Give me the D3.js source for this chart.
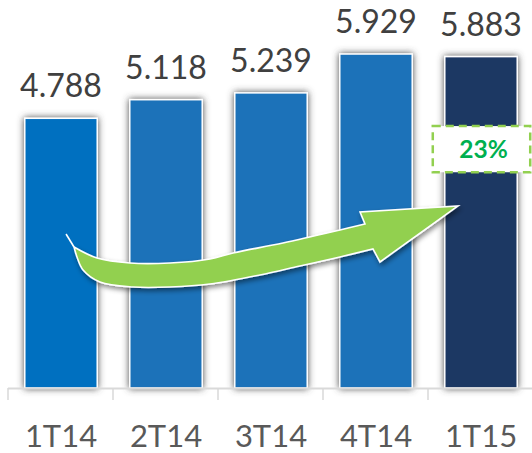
<!DOCTYPE html>
<html><head><meta charset="utf-8">
<script src="https://cdn.jsdelivr.net/npm/d3@7"></script>
<style>html,body{margin:0;padding:0;background:#fff;}svg{display:block;}</style>
</head><body>
<svg id="c" width="532" height="453"></svg>
<script>
// ---- data ----
const categories = ["1T14", "2T14", "3T14", "4T14", "1T15"];
const values = [4.788, 5.118, 5.239, 5.929, 5.883];
const valueLabels = ["4.788", "5.118", "5.239", "5.929", "5.883"];
const barColors = ["#0070C0", "#1C72B9", "#1C72B9", "#1C72B9", "#1F3864"];

// arrow annotation, in (category index, value) units
const arrowUpper = [[0.124,2.503],[0.343,2.308],[0.657,2.219],[1.038,2.219],[1.419,2.290],[1.638,2.397],[2.114,2.574],[2.657,2.805],[2.895,2.911]];
const arrowHead = [[2.895,2.911],[2.848,3.124],[3.781,3.231],[3.038,2.237],[2.971,2.468]];
const arrowLower = [[2.971,2.468],[2.657,2.326],[2.276,2.166],[1.895,2.006],[1.419,1.846],[1.038,1.793],[0.686,1.793],[0.371,1.882],[0.210,2.095],[0.152,2.326],[0.124,2.503]];
const arrowTail = [[0.048,2.734],[0.124,2.503]];

const svg = d3.select("#c");
const W = 532, H = 453;
const baseY = 388;

const x = d3.scaleBand().domain(categories).range([8.5, 533.5]).paddingInner(0.31).paddingOuter(0.155);
const y = d3.scaleLinear().domain([0, 6.888]).range([baseY, 0]);
const xi = d3.scaleLinear().domain([0, categories.length - 1])
  .range([x(categories[0]) + x.bandwidth()/2, x(categories[categories.length-1]) + x.bandwidth()/2]);

const defs = svg.append("defs");
const f = defs.append("filter").attr("id","glow").attr("x","-30%").attr("y","-30%").attr("width","160%").attr("height","160%");
f.append("feDropShadow").attr("dx",0).attr("dy",0).attr("stdDeviation",3.6).attr("flood-color","#4a4a4a").attr("flood-opacity",1);
const fa = defs.append("filter").attr("id","ashadow").attr("x","-20%").attr("y","-30%").attr("width","140%").attr("height","160%");
fa.append("feDropShadow").attr("dx",1.5).attr("dy",3).attr("stdDeviation",2.5).attr("flood-color","#000").attr("flood-opacity",0.45);

// axis
const axisG = svg.append("g");
const step = x.step();
const bounds = d3.range(categories.length + 1).map(i => x(categories[0]) - x.paddingOuter()*step + i*step - 0.5);
// bars
svg.append("g").selectAll("rect").data(values).join("rect")
  .attr("x", (d,i) => x(categories[i]))
  .attr("y", d => y(d))
  .attr("width", x.bandwidth())
  .attr("height", d => baseY - y(d))
  .attr("fill", (d,i) => barColors[i])
  .attr("stroke", "#ffffff").attr("stroke-width", 1.5)
  .attr("filter", "url(#glow)");

axisG.raise();
axisG.append("line").attr("x1", bounds[0]).attr("x2", W).attr("y1", baseY+0.5).attr("y2", baseY+0.5)
  .attr("stroke", "#d9d9d9").attr("stroke-width", 2);
axisG.selectAll("line.tick").data(bounds).join("line").attr("class","tick")
  .attr("x1", d => d).attr("x2", d => d).attr("y1", baseY).attr("y2", baseY + 12)
  .attr("stroke", "#d9d9d9").attr("stroke-width", 1.5);

// category labels
svg.append("g").selectAll("text").data(categories).join("text")
  .attr("x", d => x(d) + x.bandwidth()/2)
  .attr("y", 447)
  .attr("text-anchor", "middle")
  .attr("font-family", "Lato, 'Open Sans', sans-serif")
  .attr("font-size", 31)
  .attr("fill", "#595959")
  .text(d => d);

// value labels
svg.append("g").selectAll("text").data(values).join("text")
  .attr("x", (d,i) => x(categories[i]) + x.bandwidth()/2)
  .attr("y", d => y(d) - 21)
  .attr("text-anchor", "middle")
  .attr("font-family", "Lato, 'Open Sans', sans-serif")
  .attr("font-size", 32)
  .attr("fill", "#404040")
  .text((d,i) => valueLabels[i]);

// arrow
const px = p => [xi(p[0]), y(p[1])];
const curve = d3.line().curve(d3.curveCatmullRom.alpha(0.5));
let dU = curve(arrowUpper.map(px));
let dH = d3.line()(arrowHead.map(px)).replace(/^M/, "L");
let dL = curve(arrowLower.map(px)).replace(/^M/, "L");
svg.append("path").attr("d", dU + dH + dL + "Z")
  .attr("fill", "#92D050").attr("stroke", "#ffffff").attr("stroke-width", 1.6)
  .attr("stroke-linejoin", "miter").attr("filter", "url(#ashadow)");
svg.append("path").attr("d", d3.line()(arrowTail.map(px)))
  .attr("stroke", "#ffffff").attr("stroke-width", 1.6).attr("fill", "none");

// growth annotation
const growth = values[values.length-1] / values[0] - 1;
const lastCat = categories[categories.length-1];
const bx0 = x(lastCat) - 12, bx1 = x(lastCat) + x.bandwidth() + 13;
const by0 = y(4.65), by1 = y(3.83);
svg.append("rect").attr("x", bx0).attr("y", by0).attr("width", bx1 - bx0).attr("height", by1 - by0)
  .attr("fill", "#ffffff").attr("stroke", "#92D050").attr("stroke-width", 2.5).attr("stroke-dasharray", "8,5");
svg.append("text").attr("x", (bx0 + bx1)/2 + 2).attr("y", y(4.65) + 32)
  .attr("text-anchor", "middle")
  .attr("font-family", "Lato, 'Open Sans', sans-serif").attr("font-weight", "bold")
  .attr("font-size", 24.5).attr("fill", "#00B050")
  .text(Math.round(growth*100) + "%");
</script>
</body></html>
